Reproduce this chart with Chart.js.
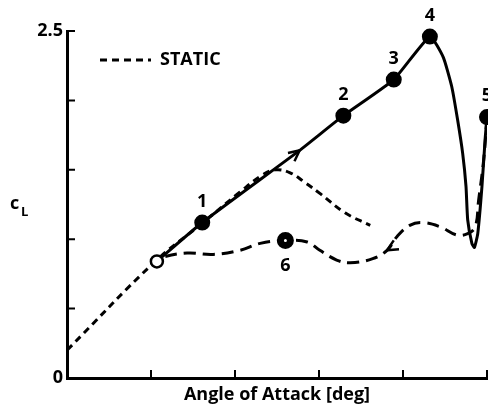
<!DOCTYPE html>
<html>
<head>
  <script src="https://cdn.jsdelivr.net/npm/chart.js"></script>
  <title>Dynamic stall cL</title>
  <style>
    body { margin: 0; background: #fff; }
  </style>
</head>
<body>
  <canvas id="chart" width="488" height="410"></canvas>

  <script>
    // static curve (dashed)
    let staticX = [0.00, 1.05, 1.58, 2.06, 2.32, 2.48, 2.65, 2.83, 3.01, 3.31, 3.61];
    let staticY = [0.20, 0.84, 1.10, 1.34, 1.46, 1.50, 1.48, 1.41, 1.33, 1.19, 1.10];

    // dynamic, pitching up (solid)
    let upX = [1.07, 1.61, 2.77, 3.29, 3.89, 4.32, 4.48, 4.58, 4.65, 4.71, 4.75, 4.77, 4.82, 4.85, 4.89, 4.94, 4.98, 5.00];
    let upY = [0.84, 1.12, 1.64, 1.89, 2.15, 2.46, 2.31, 2.10, 1.86, 1.62, 1.38, 1.14, 0.97, 0.94, 1.04, 1.38, 1.74, 1.88];

    // dynamic, pitching down (dashed)
    let downX = [5.00, 4.96, 4.90, 4.86, 4.77, 4.64, 4.44, 4.23, 4.08, 3.93, 3.81, 3.64, 3.37, 3.21, 3.01, 2.86, 2.60, 2.30, 2.06, 1.74, 1.43, 1.14, 1.07];
    let downY = [1.88, 1.57, 1.28, 1.09, 1.04, 1.03, 1.09, 1.12, 1.10, 1.02, 0.92, 0.86, 0.83, 0.85, 0.92, 0.98, 0.99, 0.97, 0.92, 0.89, 0.90, 0.87, 0.84];

    // numbered points
    let markerX = [1.07, 1.61, 3.29, 3.89, 4.32, 5.00, 2.60];
    let markerY = [0.84, 1.12, 1.89, 2.15, 2.46, 1.88, 0.99];
    let markerLabels = ['', '1', '2', '3', '4', '5', '6'];

    // direction arrows: from -> to
    let arrowX = [2.77, 3.81];
    let arrowY = [1.64, 0.92];
    let arrowToX = [3.29, 3.64];
    let arrowToY = [1.89, 0.86];

    let yTicks = [0, 2.5];

    let pts = (xs, ys) => xs.map((x, i) => ({ x: x, y: ys[i] }));
    let FONT = '"Open Sans", sans-serif';

    let extras = {
      id: 'extras',
      afterDraw(chart) {
        let c = chart.ctx, a = chart.chartArea;
        let xs = chart.scales.x, ys = chart.scales.y;
        c.save();
        c.strokeStyle = '#000';
        c.fillStyle = '#000';

        // inward tick marks
        c.lineWidth = 2;
        c.beginPath();
        ys.ticks.forEach(t => {
          if (t.value === 0) return;
          let p = ys.getPixelForValue(t.value);
          c.moveTo(a.left, p); c.lineTo(a.left + 8, p);
        });
        xs.ticks.forEach(t => {
          if (t.value === 0) return;
          let p = xs.getPixelForValue(t.value);
          c.moveTo(p, a.bottom); c.lineTo(p, a.bottom - 8);
        });
        c.stroke();

        // point numbers
        c.font = 'bold 18px ' + FONT;
        c.textAlign = 'center';
        c.textBaseline = 'middle';
        markerLabels.forEach((l, i) => {
          if (!l) return;
          let px = xs.getPixelForValue(markerX[i]);
          let py = ys.getPixelForValue(markerY[i]);
          c.fillText(l, px, l === '6' ? py + 25 : py - 21);
        });

        // arrows
        c.lineWidth = 2.5;
        arrowX.forEach((ax, i) => {
          let px = xs.getPixelForValue(ax), py = ys.getPixelForValue(arrowY[i]);
          let qx = xs.getPixelForValue(arrowToX[i]), qy = ys.getPixelForValue(arrowToY[i]);
          let ang = Math.atan2(qy - py, qx - px);
          c.beginPath();
          c.moveTo(px - 12 * Math.cos(ang - 0.45), py - 12 * Math.sin(ang - 0.45));
          c.lineTo(px, py);
          c.lineTo(px - 12 * Math.cos(ang + 0.45), py - 12 * Math.sin(ang + 0.45));
          c.stroke();
        });

        // legend
        c.lineWidth = 3;
        c.setLineDash([7, 5]);
        c.beginPath();
        c.moveTo(a.left + 33, a.top + 29);
        c.lineTo(a.left + 84, a.top + 29);
        c.stroke();
        c.setLineDash([]);
        c.textAlign = 'left';
        c.fillText('STATIC', a.left + 93, a.top + 29);

        // y axis label c_L
        c.fillText('c', 10, a.top + 173);
        c.font = 'bold 13px ' + FONT;
        c.fillText('L', 21, a.top + 181);
        c.restore();
      }
    };

    new Chart(document.getElementById('chart'), {
      type: 'scatter',
      data: {
        datasets: [
          {
            label: 'points',
            data: pts(markerX, markerY),
            showLine: false,
            clip: false,
            pointRadius: [6, 7, 7, 7, 7, 7, 5],
            pointBorderWidth: [2.5, 2, 2, 2, 2, 2, 7],
            pointBackgroundColor: ['#fff', '#000', '#000', '#000', '#000', '#000', '#fff'],
            pointBorderColor: '#000'
          },
          {
            label: 'up',
            data: pts(upX, upY),
            showLine: true,
            borderColor: '#000',
            borderWidth: 3,
            pointRadius: 0,
            tension: 0.15
          },
          {
            label: 'down',
            data: pts(downX, downY),
            showLine: true,
            borderColor: '#000',
            borderWidth: 3,
            borderDash: [12, 7],
            pointRadius: 0,
            tension: 0.4
          },
          {
            label: 'STATIC',
            data: pts(staticX, staticY),
            showLine: true,
            borderColor: '#000',
            borderWidth: 3,
            borderDash: [7, 5],
            pointRadius: 0,
            tension: 0.4
          }
        ]
      },
      options: {
        responsive: false,
        animation: false,
        layout: { autoPadding: false, padding: { top: 31, right: 1, left: 0, bottom: 0 } },
        plugins: { legend: { display: false }, tooltip: { enabled: false } },
        scales: {
          x: {
            min: 0, max: 5,
            ticks: { display: false, stepSize: 1 },
            grid: { display: false, drawTicks: false },
            border: { color: '#000', width: 3 },
            title: {
              display: true,
              text: 'Angle of Attack [deg]',
              color: '#000',
              font: { family: FONT, size: 18, weight: 'bold' },
              padding: { top: 0, bottom: 4 }
            },
            afterFit(s) { s.height = 32; }
          },
          y: {
            min: 0, max: 2.5,
            ticks: {
              stepSize: 0.5,
              color: '#000',
              padding: 4,
              font: { family: FONT, size: 18, weight: 'bold' },
              callback: v => yTicks.includes(v) ? String(v) : ''
            },
            grid: { display: false, drawTicks: false },
            border: { color: '#000', width: 3 },
            afterFit(s) { s.width = 67; }
          }
        }
      },
      plugins: [extras]
    });
  </script>
</body>
</html>
